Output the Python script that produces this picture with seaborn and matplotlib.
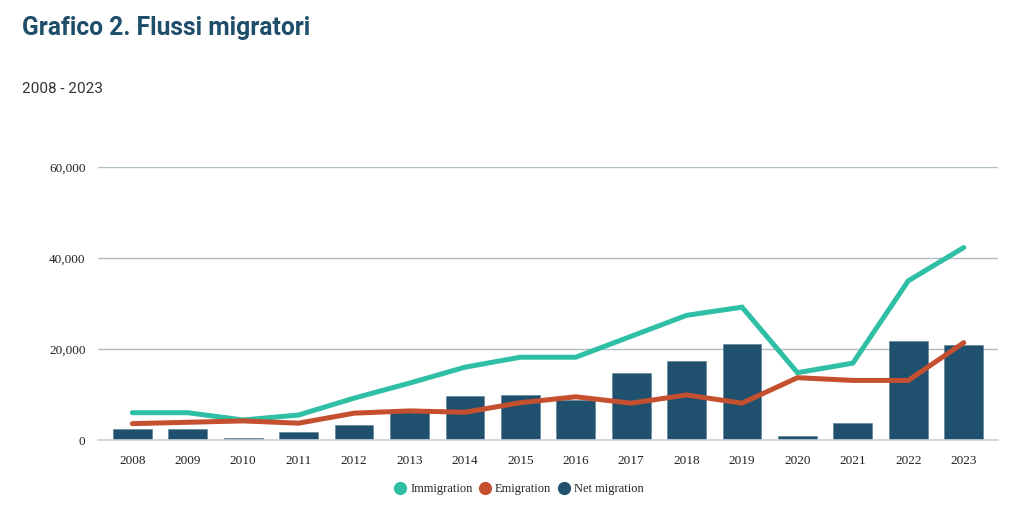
"""Grafico 2. Flussi migratori, 2008 - 2023."""

import matplotlib.pyplot as plt
import numpy as np
import pandas as pd
import seaborn as sns
from matplotlib.lines import Line2D
from matplotlib.ticker import FuncFormatter

years = [2008, 2009, 2010, 2011, 2012, 2013, 2014, 2015,
         2016, 2017, 2018, 2019, 2020, 2021, 2022, 2023]
immigration = [6000, 6000, 4400, 5500, 9200, 12500, 16000, 18200,
               18200, 22800, 27400, 29200, 14800, 16900, 35000, 42300]
emigration = [3600, 3900, 4200, 3700, 5900, 6400, 6100, 8200,
              9500, 8100, 9900, 8100, 13700, 13100, 13100, 21400]
net_migration = [2400, 2400, 400, 1700, 3300, 6200, 9700, 10000,
                 8800, 14700, 17300, 21100, 900, 3800, 21800, 20900]

TEAL = "#2ebfa5"
RED = "#c4502f"
NAVY = "#1f506d"

df = pd.DataFrame({
    "year": [str(y) for y in years],
    "pos": np.arange(len(years)),
    "Immigration": immigration,
    "Emigration": emigration,
    "Net migration": net_migration,
})

sns.set_theme(style="white")
plt.rcParams["font.family"] = ["Roboto", "DejaVu Sans"]

fig = plt.figure(figsize=(10.24, 5.15), dpi=100)
ax = fig.add_axes([0.0957, 0.1456, 0.879, 0.5301])

sns.barplot(data=df, x="year", y="Net migration", color=NAVY, width=0.7,
            saturation=1, edgecolor="#5a7d92", linewidth=0.4, ax=ax, zorder=2)
sns.lineplot(data=df, x="pos", y="Immigration", color=TEAL, linewidth=3.6,
             ax=ax, zorder=3, solid_joinstyle="miter")
sns.lineplot(data=df, x="pos", y="Emigration", color=RED, linewidth=3.6,
             ax=ax, zorder=3, solid_joinstyle="miter")

ax.set_xlim(-0.62, 15.62)
ax.set_ylim(0, 60000)
ax.set_yticks([0, 20000, 40000, 60000])
ax.yaxis.set_major_formatter(FuncFormatter(lambda v, _: f"{int(v):,}"))
ax.set_xticks(df["pos"])
ax.set_xticklabels(df["year"])
ax.grid(axis="y", color="#aebcc6", linewidth=1)
ax.set_axisbelow(True)
ax.set_xlabel("")
ax.set_ylabel("")
for side in ["top", "right", "left"]:
    ax.spines[side].set_visible(False)
ax.spines["bottom"].set_color("#cbd3d9")
ax.spines["bottom"].set_linewidth(1.2)
ax.tick_params(axis="x", length=5, color="#dcdcdc", width=1, pad=6)
ax.tick_params(axis="y", length=0, pad=9)
for lab in ax.get_xticklabels() + ax.get_yticklabels():
    lab.set_fontfamily("Liberation Serif")
    lab.set_fontsize(9.5)
    lab.set_color("#222222")

fig.text(0.021, 0.946, "Grafico 2. Flussi migratori", fontsize=17.7,
         fontweight="bold", color="#1f4e6b", va="center")
fig.text(0.021, 0.827, "2008 - 2023", fontsize=11, color="#333333",
         va="center")

handles = [Line2D([], [], marker="o", linestyle="", markersize=8.5,
                  markerfacecolor=c, markeredgecolor=c)
           for c in (TEAL, RED, NAVY)]
fig.legend(handles, ["Immigration", "Emigration", "Net migration"],
           loc="center", bbox_to_anchor=(0.507, 0.05), ncol=3, frameon=False,
           handlelength=0.9, handletextpad=0.35, columnspacing=0.55,
           prop={"family": "Liberation Serif", "size": 9})

fig.savefig("out.png", dpi=100)
